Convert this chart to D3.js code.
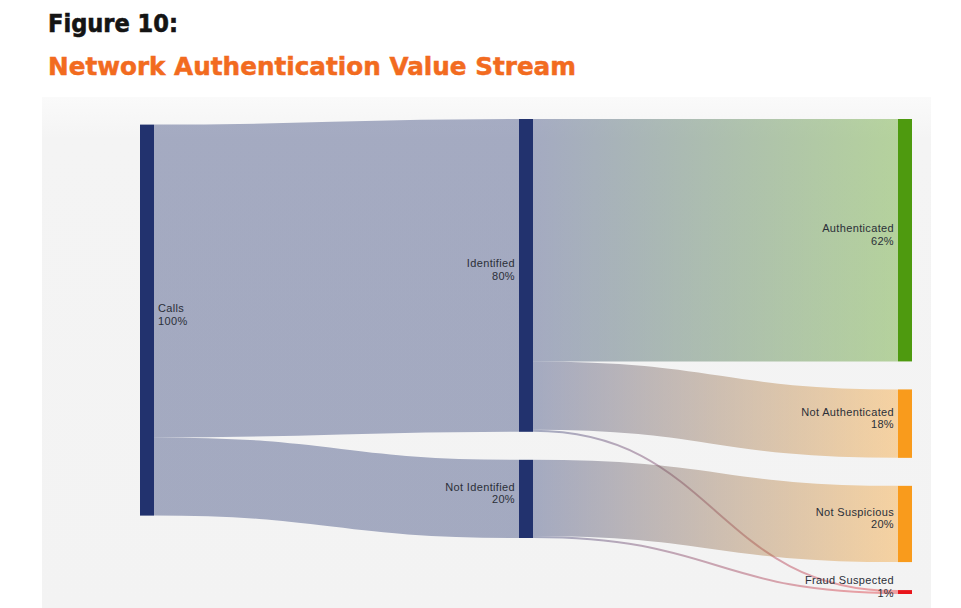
<!DOCTYPE html>
<html>
<head>
<meta charset="utf-8">
<script src="https://cdn.jsdelivr.net/npm/d3@7"></script>
<style>
  html, body { margin: 0; padding: 0; background: #ffffff; }
  svg { display: block; }
  .title { font-family: "DejaVu Sans", sans-serif; font-weight: bold; }
  .node-label { font-family: "Liberation Sans", Arial, sans-serif; font-size: 11px; letter-spacing: 0.35px; fill: #2b2f38; }
</style>
</head>
<body>
<svg id="chart"></svg>
<script>
// 節點資料
const nodeNames = ["Calls", "Identified", "Not Identified", "Authenticated", "Not Authenticated", "Not Suspicious", "Fraud Suspected"];
const nodeColumns = [0, 1, 1, 2, 2, 2, 2];
const nodeColors = ["#22326e", "#22326e", "#22326e", "#4e9a0f", "#f99b1c", "#f99b1c", "#e8141b"];
// 連結資料 (百分比)
const linkSources = [0, 0, 1, 1, 1, 2, 2];
const linkTargets = [1, 2, 3, 4, 6, 5, 6];
const linkValues = [80, 20, 62, 17.5, 0.5, 19.5, 0.5];

const width = 961;
const height = 608;
const panel = { x: 42, y: 97, w: 889, h: 520 };
const extent = { left: 140, right: 912, top: 119, bottom: 594 };
const nodeWidth = 14;
const nodePadding = 28;
const linkOpacity = 0.38;

const svg = d3.select('#chart').attr('width', width).attr('height', height);
const defs = svg.append('defs');

// 標題
svg.append('text').attr('class', 'title')
  .attr('x', 48).attr('y', 32)
  .attr('font-size', 24).attr('fill', '#141414')
  .attr('textLength', 130).attr('lengthAdjust', 'spacingAndGlyphs')
  .style('stroke', '#141414').style('stroke-width', 0.6)
  .text('Figure 10:');
svg.append('text').attr('class', 'title')
  .attr('x', 48).attr('y', 75)
  .attr('font-size', 24).attr('fill', '#f26b1f')
  .attr('textLength', 528).attr('lengthAdjust', 'spacingAndGlyphs')
  .style('stroke', '#f26b1f').style('stroke-width', 0.5)
  .text('Network Authentication Value Stream');

// 灰色背景 (上方稍亮)
const bg = defs.append('linearGradient').attr('id', 'panelGrad')
  .attr('x1', 0).attr('x2', 0).attr('y1', 0).attr('y2', 1);
bg.append('stop').attr('offset', '0%').attr('stop-color', '#fafafa');
bg.append('stop').attr('offset', '8%').attr('stop-color', '#f4f4f4');
bg.append('stop').attr('offset', '100%').attr('stop-color', '#f3f3f3');
svg.append('rect')
  .attr('x', panel.x).attr('y', panel.y)
  .attr('width', panel.w).attr('height', panel.h)
  .attr('fill', 'url(#panelGrad)');

// 建立節點與連結
const nodes = nodeNames.map((name, i) => ({ index: i, name: name, column: nodeColumns[i], color: nodeColors[i], sourceLinks: [], targetLinks: [] }));
const links = linkValues.map((v, i) => ({ source: nodes[linkSources[i]], target: nodes[linkTargets[i]], value: v }));
links.forEach(l => { l.source.sourceLinks.push(l); l.target.targetLinks.push(l); });
nodes.forEach(n => {
  n.value = Math.max(d3.sum(n.sourceLinks, l => l.value), d3.sum(n.targetLinks, l => l.value));
});

const columns = d3.groups(nodes, n => n.column).sort((a, b) => a[0] - b[0]).map(g => g[1]);
const maxColumn = d3.max(nodes, n => n.column);

// x方向
const xScale = d3.scaleLinear().domain([0, maxColumn]).range([extent.left, extent.right - nodeWidth]);
// 值 -> 高度
const maxNodes = d3.max(columns, c => c.length);
const maxColumnValue = d3.max(columns, c => d3.sum(c, n => n.value));
const vScale = d3.scaleLinear().domain([0, maxColumnValue]).range([0, (extent.bottom - extent.top) - (maxNodes - 1) * nodePadding]);

nodes.forEach(n => { n.x0 = xScale(n.column); n.x1 = n.x0 + nodeWidth; });

// 每欄由上往下排
columns.forEach(col => {
  let y = extent.top;
  col.forEach(n => {
    n.y0 = y;
    n.y1 = y + vScale(n.value);
    y = n.y1 + nodePadding;
  });
});

// 第一欄對齊到目標節點的加權中心
columns[0].forEach(n => {
  const center = d3.sum(n.sourceLinks, l => (l.target.y0 + l.target.y1) / 2 * l.value) / d3.sum(n.sourceLinks, l => l.value);
  const h = n.y1 - n.y0;
  n.y0 = center - h / 2;
  n.y1 = n.y0 + h;
});

// 連結的y位置
nodes.forEach(n => {
  n.sourceLinks.sort((a, b) => a.target.y0 - b.target.y0);
  n.targetLinks.sort((a, b) => a.source.y0 - b.source.y0);
  let y = n.y0;
  n.sourceLinks.forEach(l => { l.width = vScale(l.value); l.y0 = y + l.width / 2; y += l.width; });
  y = n.y0;
  n.targetLinks.forEach(l => { l.y1 = y + vScale(l.value) / 2; y += vScale(l.value); });
});

// 漸層
links.forEach((l, i) => {
  const grad = defs.append('linearGradient')
    .attr('id', 'grad' + i)
    .attr('gradientUnits', 'userSpaceOnUse')
    .attr('x1', l.source.x1).attr('x2', l.target.x0)
    .attr('y1', 0).attr('y2', 0);
  grad.append('stop').attr('offset', '0%').attr('stop-color', l.source.color);
  grad.append('stop').attr('offset', '100%').attr('stop-color', l.target.color);
});

// 畫連結
const linkPath = d3.linkHorizontal()
  .source(d => [d.source.x1, d.y0])
  .target(d => [d.target.x0, d.y1]);

svg.append('g')
  .attr('fill', 'none')
  .selectAll('path')
  .data(links)
  .join('path')
  .attr('d', linkPath)
  .attr('stroke', (d, i) => `url(#grad${i})`)
  .attr('stroke-opacity', linkOpacity)
  .attr('stroke-width', d => Math.max(1.5, d.width));

// 畫節點
svg.append('g')
  .selectAll('rect')
  .data(nodes)
  .join('rect')
  .attr('x', d => d.x0)
  .attr('y', d => d.y0)
  .attr('width', d => d.x1 - d.x0)
  .attr('height', d => Math.max(1, d.y1 - d.y0))
  .attr('fill', d => d.color);

// 標籤
const labelX = d => d.column === 0 ? d.x1 + 4 : d.x0 - 4;
const labels = svg.append('g')
  .selectAll('text')
  .data(nodes)
  .join('text')
  .attr('class', 'node-label')
  .attr('x', labelX)
  .attr('y', d => (d.y0 + d.y1) / 2 - 8)
  .attr('text-anchor', d => d.column === 0 ? 'start' : 'end');
labels.append('tspan').text(d => d.name);
labels.append('tspan')
  .attr('x', labelX)
  .attr('dy', 12.5)
  .text(d => Math.round(d.value) + '%');
</script>
</body>
</html>
